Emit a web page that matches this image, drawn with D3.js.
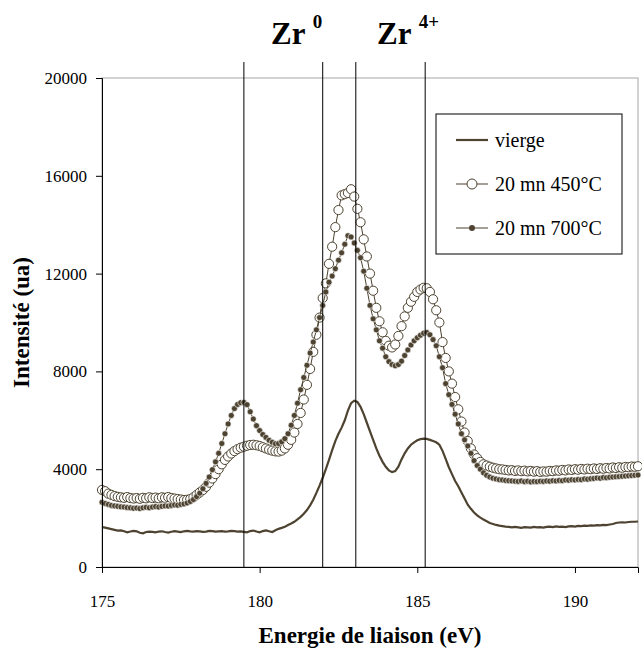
<!DOCTYPE html>
<html><head><meta charset="utf-8">
<script src="https://cdn.jsdelivr.net/npm/d3@7"></script>
<style>body{margin:0;background:#fff}svg{display:block}text{font-family:"Liberation Serif","Times New Roman",serif}</style>
</head><body>
<svg id="c" width="642" height="650"></svg>
<script>
// energies from 175.0 to 192.0 eV, step 0.1
const energyStart = 175.0, energyStep = 0.1;
const vierge = [
1630,1610,1580,1550,1520,1490,1500,1460,1420,1450,
1480,1460,1400,1380,1430,1450,1440,1420,1450,1460,
1430,1410,1440,1470,1450,1430,1460,1480,1460,1450,
1470,1460,1440,1450,1480,1470,1450,1460,1470,1450,
1460,1480,1470,1450,1460,1440,1420,1470,1490,1450,
1420,1470,1500,1460,1430,1500,1560,1600,1650,1720,
1780,1850,1950,2050,2180,2330,2520,2750,3030,3330,
3650,4000,4380,4780,5150,5450,5700,6000,6400,6700,
6800,6750,6550,6250,5900,5550,5200,4850,4550,4300,
4100,3950,3880,3920,4100,4400,4650,4850,5000,5100,
5180,5230,5250,5240,5200,5150,5100,5000,4750,4420,
4080,3800,3520,3300,3050,2800,2550,2380,2230,2110,
2020,1940,1870,1800,1760,1720,1690,1670,1650,1640,
1620,1640,1620,1600,1630,1620,1610,1640,1620,1630,
1610,1640,1650,1630,1660,1640,1650,1630,1660,1670,
1650,1680,1670,1690,1680,1700,1690,1710,1700,1720,
1710,1740,1760,1800,1820,1830,1820,1840,1850,1850,
1860];
const s450 = [
3150,3100,3000,2950,2900,2870,2850,2830,2860,2820,
2800,2820,2790,2830,2810,2850,2820,2840,2810,2850,
2830,2860,2820,2800,2780,2760,2740,2750,2780,2850,
2950,3050,3150,3280,3450,3620,3800,4000,4200,4380,
4520,4640,4740,4820,4880,4920,4960,4990,5000,4980,
4950,4900,4850,4800,4760,4730,4720,4760,4850,5000,
5200,5500,5850,6300,6850,7450,8100,8800,9500,10200,
11000,11600,12400,13100,13900,14600,15200,15250,15300,15450,
15150,14650,14100,13400,12700,12000,11300,10600,10050,9600,
9250,9050,8980,9100,9450,9850,10250,10600,10850,11050,
11250,11350,11420,11400,11250,10950,10500,10000,9200,8550,
8000,7500,6950,6450,5950,5500,5150,4850,4600,4450,
4300,4200,4150,4100,4060,4030,4000,3990,3970,3950,
3960,3930,3950,3920,3940,3910,3930,3900,3920,3890,
3910,3900,3930,3920,3950,3940,3970,3950,3990,3970,
4000,3980,4010,3990,4020,4000,4030,4010,4040,4020,
4050,4030,4070,4050,4080,4060,4090,4080,4110,4100,
4120];
const s700 = [
2650,2600,2560,2520,2500,2480,2460,2450,2430,2420,
2400,2410,2390,2420,2440,2420,2450,2470,2450,2480,
2500,2490,2520,2540,2530,2560,2580,2620,2680,2760,
2880,3020,3200,3420,3680,3980,4300,4650,5050,5450,
5850,6200,6480,6650,6720,6730,6640,6350,6050,5780,
5580,5420,5300,5180,5100,5040,5050,5120,5250,5450,
5800,6200,6700,7250,7750,8250,8750,9200,9700,10200,
10700,11250,11650,11900,12200,12550,12850,13200,13550,13500,
13250,12950,12650,12100,11400,10700,10150,9700,9250,8950,
8600,8400,8280,8230,8280,8420,8650,8880,9080,9250,
9380,9480,9560,9590,9500,9300,9050,8600,8150,7500,
7050,6650,6250,5850,5450,5200,4950,4650,4350,4150,
4000,3850,3750,3680,3630,3600,3570,3560,3540,3530,
3520,3510,3500,3520,3490,3510,3480,3500,3490,3510,
3500,3520,3510,3530,3520,3540,3530,3560,3550,3570,
3560,3580,3570,3600,3590,3610,3620,3640,3630,3660,
3650,3670,3680,3690,3700,3710,3720,3730,3740,3750,
3760];
const seriesNames = ["vierge", "20 mn 450°C", "20 mn 700°C"];
const xTicks = [175, 180, 185, 190];
const yTicks = [0, 4000, 8000, 12000, 16000, 20000];
const refLines = [179.5, 182.0, 183.05, 185.25];

const m = {left: 102, right: 638, top: 78, bottom: 567};
const col = "#4d4330";
const svg = d3.select("#c");
const x = d3.scaleLinear().domain([175, 192]).range([m.left, m.right]);
const y = d3.scaleLinear().domain([0, 20000]).range([m.bottom, m.top]);
const pts = arr => arr.map((v, i) => [energyStart + i * energyStep, v]);

// plot frame (top/right gray)
svg.append("rect").attr("x", m.left).attr("y", m.top)
  .attr("width", m.right - m.left).attr("height", m.bottom - m.top)
  .attr("fill", "none").attr("stroke", "#a6a6a6").attr("stroke-width", 1);

const line = d3.line().x(d => x(d[0])).y(d => y(d[1]));
const g = svg.append("g");
// vierge
g.append("path").attr("d", line(pts(vierge))).attr("fill", "none")
  .attr("stroke", col).attr("stroke-width", 2.2);
// 450
g.append("path").attr("d", line(pts(s450))).attr("fill", "none")
  .attr("stroke", col).attr("stroke-width", 1);
g.selectAll("circle.c450").data(pts(s450)).join("circle").attr("class", "c450")
  .attr("cx", d => x(d[0])).attr("cy", d => y(d[1])).attr("r", 4.6)
  .attr("fill", "#fff").attr("stroke", col).attr("stroke-width", 1);
// 700
g.append("path").attr("d", line(pts(s700))).attr("fill", "none")
  .attr("stroke", col).attr("stroke-width", 1);
g.selectAll("circle.c700").data(pts(s700)).join("circle").attr("class", "c700")
  .attr("cx", d => x(d[0])).attr("cy", d => y(d[1])).attr("r", 3)
  .attr("fill", col).attr("stroke", "#fff").attr("stroke-width", 0.6);

// reference vertical lines
svg.selectAll("line.ref").data(refLines).join("line").attr("class", "ref")
  .attr("x1", d => x(d)).attr("x2", d => x(d)).attr("y1", 62).attr("y2", m.bottom)
  .attr("stroke", "#000").attr("stroke-width", 1);

// axes
const xa = svg.append("g").attr("transform", `translate(0,${m.bottom})`)
  .call(d3.axisBottom(x).tickValues(xTicks).tickSize(6).tickPadding(22).tickFormat(d3.format("d")));
const ya = svg.append("g").attr("transform", `translate(${m.left},0)`)
  .call(d3.axisLeft(y).tickValues(yTicks).tickSize(6).tickPadding(9).tickFormat(d3.format("d")));
[xa, ya].forEach(a => {
  a.select(".domain").attr("stroke", "#000");
  a.selectAll(".tick line").attr("stroke", "#000");
  a.selectAll("text").attr("font-size", 17).attr("fill", "#000")
    .attr("font-family", "'Liberation Serif', serif");
});

// axis titles
svg.append("text").attr("x", (m.left + m.right) / 2).attr("y", 643)
  .attr("text-anchor", "middle").attr("font-size", 23).attr("font-weight", "bold")
  .text("Energie de liaison (eV)");
svg.append("text").attr("transform", `translate(29,${(m.top + m.bottom) / 2}) rotate(-90)`)
  .attr("text-anchor", "middle").attr("font-size", 23).attr("font-weight", "bold")
  .text("Intensité (ua)");

// Zr labels
function zr(xp, sup) {
  const t = svg.append("text").attr("x", xp).attr("y", 44)
    .attr("font-size", 31).attr("font-weight", "bold");
  t.append("tspan").text("Zr ");
  t.append("tspan").attr("font-size", 19).attr("dy", -16).text(sup);
}
zr(271, "0");
zr(377, "4+");

// legend
const lg = svg.append("g");
lg.append("rect").attr("x", 436).attr("y", 114).attr("width", 186).attr("height", 140)
  .attr("fill", "#fff").attr("stroke", "#000").attr("stroke-width", 1);
const rows = [140, 184, 228];
seriesNames.forEach((name, i) => {
  const yy = rows[i];
  lg.append("line").attr("x1", 456).attr("x2", 488).attr("y1", yy).attr("y2", yy)
    .attr("stroke", col).attr("stroke-width", i === 0 ? 2.2 : 1);
  if (i === 1) lg.append("circle").attr("cx", 472).attr("cy", yy).attr("r", 5)
    .attr("fill", "#fff").attr("stroke", col);
  if (i === 2) lg.append("circle").attr("cx", 472).attr("cy", yy).attr("r", 3).attr("fill", col);
  lg.append("text").attr("x", 495).attr("y", yy + 7).attr("font-size", 20).text(name);
});
</script>
</body></html>
